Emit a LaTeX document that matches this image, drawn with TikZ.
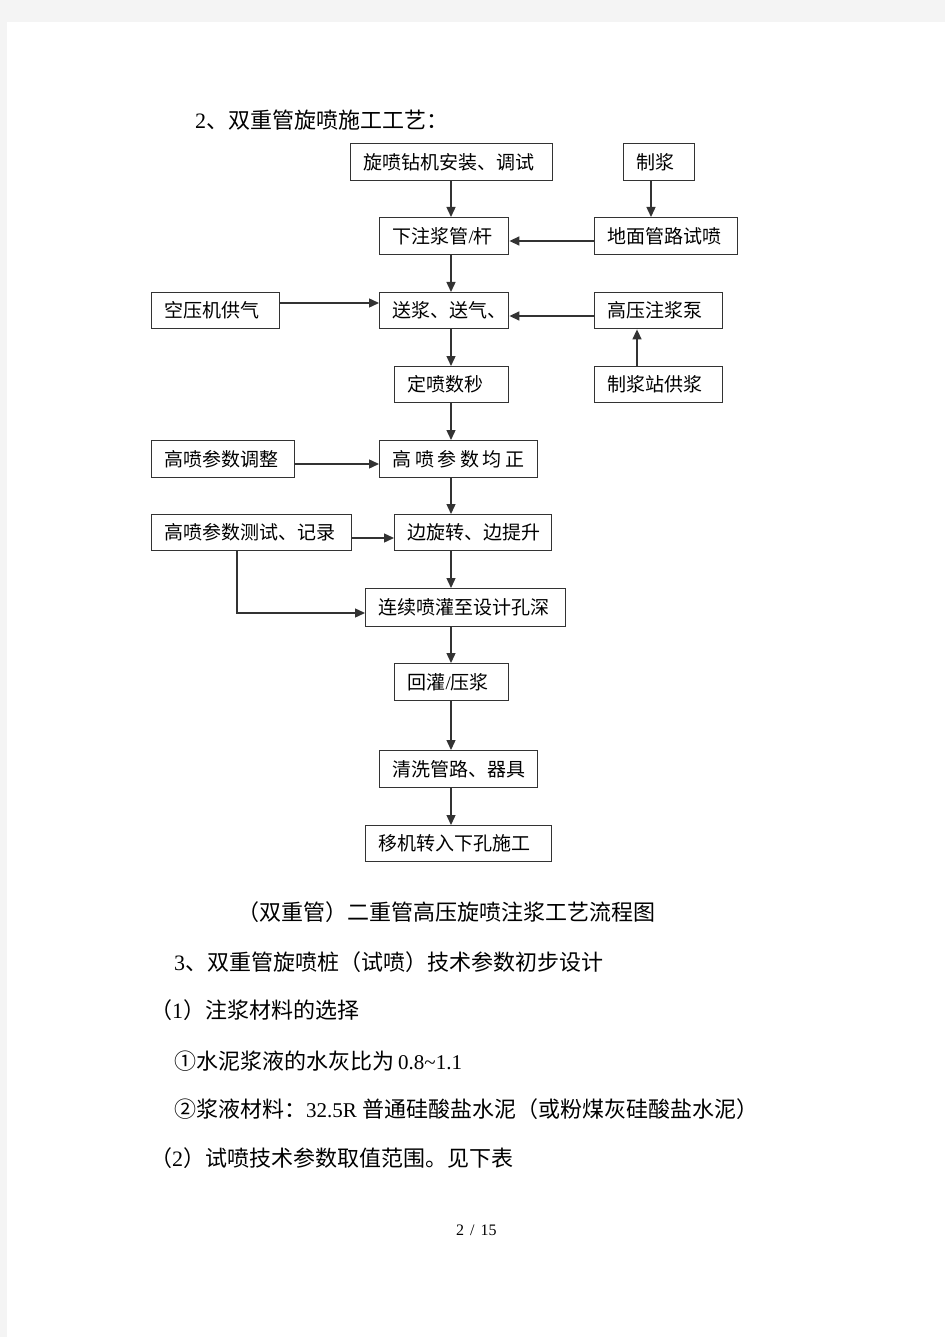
\documentclass[tikz,border=0pt]{standalone}
\usepackage{fontspec}
\setmainfont{Liberation Serif}
\newfontfamily\lat{Liberation Serif}
\newfontfamily\cjk{Noto Sans CJK SC}
\usetikzlibrary{arrows.meta}
\definecolor{pagebg}{HTML}{F4F4F4}
\definecolor{linec}{HTML}{333333}
\begin{document}
\begin{tikzpicture}[x=1pt,y=-1pt,
  box/.style={draw=linec, line width=1.4pt, anchor=north west, inner xsep=13pt, inner ysep=0pt,
    minimum height=37pt, align=left, font=\cjk\fontsize{19}{21}\selectfont},
  arr/.style={draw=linec, line width=1.4pt, -{Triangle[length=10pt,width=9pt]}},
  body/.style={anchor=west, inner sep=0pt, font=\cjk\fontsize{22}{24}\selectfont}
]
% page
\fill[pagebg] (0,0) rectangle (945,1337);
\fill[white] (7,22) rectangle (945,1337);
\useasboundingbox (0,0) rectangle (945,1337);

% heading
\node[body] (title) at (195,120) {{\lat 2}、双重管旋喷施工工艺：};

% boxes
\node[box, text width=176pt] (A) at (350,143) {旋喷钻机安装、调试};
\node[box, text width=45pt]  (B) at (623,143) {制浆};
\node[box, text width=103pt] (C) at (379,217) {下注浆管{\lat /}杆};
\node[box, text width=117pt] (D) at (594,217) {地面管路试喷};
\node[box, text width=102pt, minimum height=36pt] (E) at (151,292) {空压机供气};
\node[box, text width=103pt, minimum height=36pt] (F) at (379,292) {送浆、送气、};
\node[box, text width=102pt, minimum height=36pt] (G) at (594,292) {高压注浆泵};
\node[box, text width=88pt,  minimum height=36pt] (H) at (394,366) {定喷数秒};
\node[box, text width=102pt, minimum height=36pt] (I) at (594,366) {制浆站供浆};
\node[box, text width=117pt] (J) at (151,440) {高喷参数调整};
\node[box, text width=132pt] (K) at (379,440) {高\hspace{3.5pt}喷\hspace{3.5pt}参\hspace{3.5pt}数\hspace{3.5pt}均\hspace{3.5pt}正};
\node[box, text width=174pt, minimum height=36pt] (L) at (151,514) {高喷参数测试、记录};
\node[box, text width=131pt, minimum height=36pt] (M) at (394,514) {边旋转、边提升};
\node[box, text width=174pt, minimum height=38pt] (N) at (365,588) {连续喷灌至设计孔深};
\node[box, text width=88pt] (O) at (394,663) {回灌{\lat /}压浆};
\node[box, text width=132pt] (P) at (379,750) {清洗管路、器具};
\node[box, text width=160pt, minimum height=36pt] (Q) at (365,825) {移机转入下孔施工};

% helper coordinates
\coordinate (sp) at (451,0);
\coordinate (bx) at (651,0);
\coordinate (ix) at (637,0);
\coordinate (lx) at (237,0);
\coordinate (dy) at (0,241);
\coordinate (ey) at (0,303);
\coordinate (gy) at (0,316);
\coordinate (jy) at (0,464);
\coordinate (ly) at (0,538);
\coordinate (ny) at (0,613);

% connectors
\draw[arr] (A.south -| sp) -- (C.north -| sp);
\draw[arr] (B.south -| bx) -- (D.north -| bx);
\draw[arr] (D.west |- dy) -- (C.east |- dy);
\draw[arr] (C.south -| sp) -- (F.north -| sp);
\draw[arr] (E.east |- ey) -- (F.west |- ey);
\draw[arr] (G.west |- gy) -- (F.east |- gy);
\draw[arr] (I.north -| ix) -- (G.south -| ix);
\draw[arr] (F.south -| sp) -- (H.north -| sp);
\draw[arr] (H.south -| sp) -- (K.north -| sp);
\draw[arr] (J.east |- jy) -- (K.west |- jy);
\draw[arr] (K.south -| sp) -- (M.north -| sp);
\draw[arr] (L.east |- ly) -- (M.west |- ly);
\draw[arr] (L.south -| lx) |- (N.west |- ny);
\draw[arr] (M.south -| sp) -- (N.north -| sp);
\draw[arr] (N.south -| sp) -- (O.north -| sp);
\draw[arr] (O.south -| sp) -- (P.north -| sp);
\draw[arr] (P.south -| sp) -- (Q.north -| sp);

% body text
\node[body] (cap) at (237,912) {（双重管）二重管高压旋喷注浆工艺流程图};
\node[body] (l3) at (174,962) {{\lat 3}、双重管旋喷桩（试喷）技术参数初步设计};
\node[body] (l4) at (150,1010) {（{\lat 1}）注浆材料的选择};
\node[body] (l5) at (174,1061) {①水泥浆液的水灰比为\hspace{4pt}{\lat\fontsize{21}{23}\selectfont 0.8\textasciitilde1.1}};
\node[body] (l6) at (174,1109) {②浆液材料：{\lat\fontsize{21}{23}\selectfont 32.5R }普通硅酸盐水泥（或粉煤灰硅酸盐水泥）};
\node[body] (l7) at (150,1158) {（{\lat 2}）试喷技术参数取值范围。见下表};
\node[anchor=west, inner sep=0pt, font=\lat\fontsize{16}{18}\selectfont] (pg) at (456,1230) {2\hspace{6pt}/\hspace{6pt}15};
\end{tikzpicture}
\end{document}
